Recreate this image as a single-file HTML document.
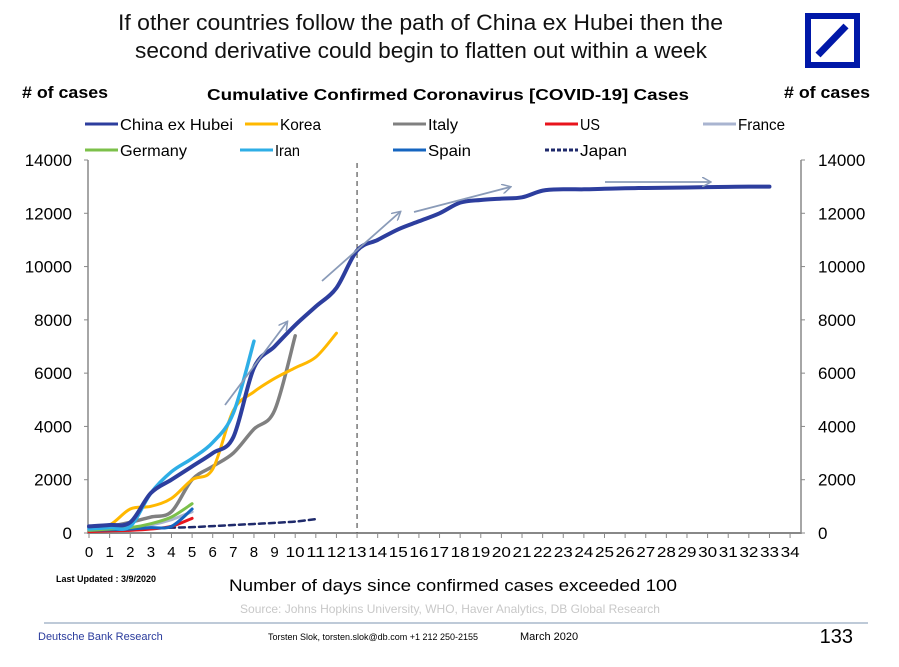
<!DOCTYPE html>
<html><head><meta charset="utf-8"><style>
body{margin:0;background:#fff;width:899px;height:667px;overflow:hidden}
svg{display:block;font-family:"Liberation Sans",Arial,sans-serif}
</style></head><body>
<svg id="c" width="899" height="667" viewBox="0 0 899 667">
<text x="118" y="30" font-size="22" textLength="605" lengthAdjust="spacingAndGlyphs" fill="#111">If other countries follow the path of China ex Hubei then the</text>
<text x="135" y="58" font-size="22" textLength="572" lengthAdjust="spacingAndGlyphs" fill="#111">second derivative could begin to flatten out within a week</text>
<g>
<rect x="808" y="16" width="49" height="49" fill="#fff" stroke="#0018a8" stroke-width="6"/>
<line x1="818" y1="55" x2="846" y2="26" stroke="#0018a8" stroke-width="7"/>
</g>
<text x="22" y="98" font-size="17" font-weight="bold" textLength="86" lengthAdjust="spacingAndGlyphs"># of cases</text>
<text x="784" y="98" font-size="17" font-weight="bold" textLength="86" lengthAdjust="spacingAndGlyphs"># of cases</text>
<text x="207" y="100" font-size="16" font-weight="bold" textLength="482" lengthAdjust="spacingAndGlyphs">Cumulative Confirmed Coronavirus [COVID-19] Cases</text>
<g id="legend"></g>
<g id="plot"></g>
<text x="229" y="591" font-size="17" textLength="448" lengthAdjust="spacingAndGlyphs">Number of days since confirmed cases exceeded 100</text>
<text x="56" y="582" font-size="9" font-weight="bold">Last Updated : 3/9/2020</text>
<text x="450" y="613" font-size="12" fill="#c8c8c8" text-anchor="middle">Source: Johns Hopkins University, WHO, Haver Analytics, DB Global Research</text>
<line x1="44" y1="623" x2="868" y2="623" stroke="#a9b8cc" stroke-width="1.5"/>
<text x="38" y="640" font-size="11" fill="#2a3b9c">Deutsche Bank Research</text>
<text x="268" y="640" font-size="9">Torsten Slok, torsten.slok@db.com  +1 212 250-2155</text>
<text x="520" y="640" font-size="11">March  2020</text>
<text x="853" y="643" font-size="20" text-anchor="end">133</text>
</svg>
<script>
const days=[0,1,2,3,4,5,6,7,8,9,10,11,12,13,14,15,16,17,18,19,20,21,22,23,24,25,26,27,28,29,30,31,32,33];
const china=[250,300,400,1500,2000,2500,3000,3600,6200,7000,7800,8500,9200,10600,11000,11400,11700,12000,12400,12500,12550,12600,12850,12900,12900,12920,12940,12950,12960,12970,12980,12990,13000,13000];
const korea=[200,300,900,1000,1300,2000,2400,4600,5300,5800,6200,6600,7500];
const italy=[200,250,400,600,800,2000,2500,3000,3900,4600,7400];
const iran=[150,200,250,1500,2300,2800,3400,4500,7200];
const germany=[100,150,200,350,600,1100];
const spain=[100,120,150,200,250,900];
const us=[50,80,100,150,250,550];
const france=[120,150,200,300,500,800];
const japan=[100,120,150,170,200,220,260,300,340,380,430,520];
const yTicks=[0,2000,4000,6000,8000,10000,12000,14000];
const series=[
 {name:"Japan",v:japan,c:"#1f2a6b",dash:"6,4",w:2.5},
 {name:"France",v:france,c:"#a9b4d0",w:3},
 {name:"US",v:us,c:"#e8141c",w:3},
 {name:"Spain",v:spain,c:"#1565c0",w:3},
 {name:"Germany",v:germany,c:"#7cc04a",w:3},
 {name:"Italy",v:italy,c:"#808080",w:3.5},
 {name:"Korea",v:korea,c:"#ffb800",w:3},
 {name:"Iran",v:iran,c:"#2eaee6",w:3.5},
 {name:"China ex Hubei",v:china,c:"#2d3e9e",w:4}
];
const NS="http://www.w3.org/2000/svg";
const X=d=>89+d*20.62, Y=v=>533-v*(373/14000);
function mk(p,t,a){const e=document.createElementNS(NS,t);for(const k in a)e.setAttribute(k,a[k]);p.appendChild(e);return e;}
const plot=document.getElementById('plot');
let e=mk(plot,'line',{x1:88,y1:160,x2:88,y2:534,stroke:'#888','stroke-width':1.5});


e=mk(plot,'line',{x1:801,y1:160,x2:801,y2:534,stroke:'#888','stroke-width':1.5});


e=mk(plot,'line',{x1:88,y1:533,x2:801,y2:533,stroke:'#888','stroke-width':2});


yTicks.forEach(t=>{
 mk(plot,'line',{x1:84,y1:Y(t),x2:88,y2:Y(t),stroke:'#888'});
 mk(plot,'line',{x1:801,y1:Y(t),x2:805,y2:Y(t),stroke:'#888'});
 let a=mk(plot,'text',{x:72,y:Y(t)+6,'font-size':17,'text-anchor':'end'});
 a.textContent=t;
 
 
 let b=mk(plot,'text',{x:818,y:Y(t)+6,'font-size':17});
 b.textContent=t;
 
 
});
for(let d=0;d<=34;d++){
 mk(plot,'line',{x1:X(d),y1:533,x2:X(d),y2:538,stroke:'#888'});
 let a=mk(plot,'text',{x:X(d),y:557,'font-size':15,'text-anchor':'middle'});
 if(d>=10){a.setAttribute('textLength',19);a.setAttribute('lengthAdjust','spacingAndGlyphs');}
 a.textContent=d;
 
 
}
e=mk(plot,'line',{x1:X(13),y1:163,x2:X(13),y2:533,stroke:'#555','stroke-dasharray':'5,4','stroke-width':1.2});


function smooth(pts){let d=`M${pts[0][0]},${pts[0][1]}`;for(let i=0;i<pts.length-1;i++){const p0=pts[i-1]||pts[i],p1=pts[i],p2=pts[i+1],p3=pts[i+2]||p2;
 d+=` C${p1[0]+(p2[0]-p0[0])/6},${p1[1]+(p2[1]-p0[1])/6} ${p2[0]-(p3[0]-p1[0])/6},${p2[1]-(p3[1]-p1[1])/6} ${p2[0]},${p2[1]}`;}return d;}
series.forEach(s=>{
 const pts=s.v.map((v,i)=>[X(days[i]),Y(v)]);
 const a={d:smooth(pts),fill:'none',stroke:s.c,'stroke-width':s.w,'stroke-linecap':'round'};
 if(s.dash)a['stroke-dasharray']=s.dash;
 const p=mk(plot,'path',a);
 
 
});
const defs=mk(plot,'defs',{});
const m=mk(defs,'marker',{id:'ah',markerWidth:10,markerHeight:10,refX:8,refY:5,orient:'auto',markerUnits:'userSpaceOnUse'});
mk(m,'path',{d:'M0,0 L9,5 L0,10',fill:'none',stroke:'#8a9bb8','stroke-width':1.5});
[[225,405,287,322],[322,281,400,212],[414,212,510,187],[605,182,710,182]].forEach(a=>{
 const l=mk(plot,'line',{x1:a[0],y1:a[1],x2:a[2],y2:a[3],stroke:'#8a9bb8','stroke-width':1.8,'marker-end':'url(#ah)'});
 
 
});
const lg=document.getElementById('legend');
[["China ex Hubei","#2d3e9e",85,124,113],["Korea","#ffb800",245,124,41],["Italy","#808080",393,124,30],["US","#e8141c",545,124,20],["France","#a9b4d0",703,124,47],
 ["Germany","#7cc04a",85,150,67],["Iran","#2eaee6",240,150,25],["Spain","#1565c0",393,150,43],["Japan","#1f2a6b",545,150,47]].forEach(l=>{
 const g=mk(lg,'g',{});
 
 
 const a={x1:l[2],y1:l[3],x2:l[2]+33,y2:l[3],stroke:l[1],'stroke-width':3};
 if(l[0]==="Japan"){a['stroke-dasharray']='4,2';}
 mk(g,'line',a);
 const t=mk(g,'text',{x:l[2]+35,y:l[3]+6,'font-size':16,textLength:l[4],lengthAdjust:'spacingAndGlyphs'});
 t.textContent=l[0];
});
</script>
</body></html>
